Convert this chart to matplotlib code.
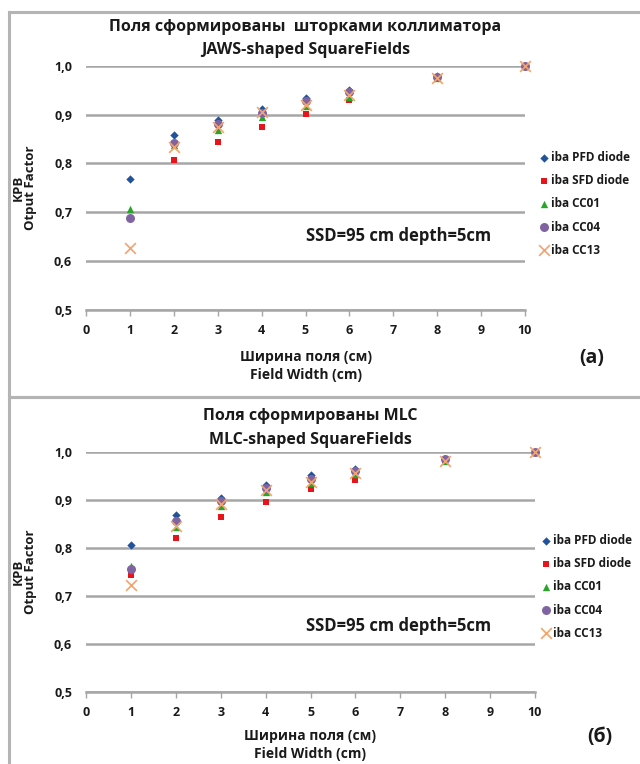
"""
Output factor vs field width: JAWS-shaped (a) and MLC-shaped (б) square fields.
Saves out.png (640x764).
"""
import numpy as np
import matplotlib
matplotlib.use("Agg")
import matplotlib.pyplot as plt
from matplotlib.patches import Rectangle

plt.rcParams["font.family"] = ["Open Sans", "DejaVu Sans"]
plt.rcParams["font.weight"] = "bold"
plt.rcParams["axes.labelweight"] = "bold"

# ---- data ----
field_width = [1, 2, 3, 4, 5, 6, 8, 10]
detectors = ["iba PFD diode", "iba SFD diode", "iba CC01", "iba CC04", "iba CC13"]

# (a) JAWS-shaped
jaws_pfd  = [0.768, 0.859, 0.888, 0.911, 0.933, 0.950, 0.979, 1.000]
jaws_sfd  = [np.nan, 0.807, 0.843, 0.875, 0.902, 0.929, 0.973, 1.000]
jaws_cc01 = [0.707, 0.838, 0.869, 0.895, 0.917, 0.936, 0.974, 1.000]
jaws_cc04 = [0.688, 0.841, 0.880, 0.904, 0.928, 0.946, 0.977, 1.000]
jaws_cc13 = [0.627, 0.833, 0.875, 0.905, 0.920, 0.940, 0.975, 1.000]

# (б) MLC-shaped
mlc_pfd  = [0.806, 0.868, 0.904, 0.930, 0.951, 0.965, 0.985, 1.000]
mlc_sfd  = [0.744, 0.821, 0.864, 0.895, 0.922, 0.941, 0.982, 1.000]
mlc_cc01 = [0.762, 0.843, 0.888, 0.916, 0.935, 0.953, 0.980, 1.000]
mlc_cc04 = [0.756, 0.855, 0.897, 0.925, 0.944, 0.960, 0.984, 1.000]
mlc_cc13 = [0.722, 0.846, 0.892, 0.920, 0.937, 0.955, 0.980, 1.000]

COLORS  = ["#22529a", "#e8141c", "#2aa52a", "#8064a2", "#f4a46a"]
MARKERS = ["D", "s", "^", "o", "x"]
SIZES   = [18, 20, 28, 42, 60]

panels = [
    dict(series=[jaws_pfd, jaws_sfd, jaws_cc01, jaws_cc04, jaws_cc13],
         title1="Поля сформированы  шторками коллиматора",
         title2="JAWS-shaped SquareFields", tag="(a)",
         rect=[86/640, 1-310/764, 439/640, 244.3/764],
         t1=27, t2=50, xl=366, tag_xy=(592, 358), ssd=(5.0, 0.642), leg=(1.02, 0.434)),
    dict(series=[mlc_pfd, mlc_sfd, mlc_cc01, mlc_cc04, mlc_cc13],
         title1="Поля сформированы MLC",
         title2="MLC-shaped SquareFields", tag="(б)",
         rect=[86/640, 1-692/764, 449/640, 240.3/764],
         t1=416, t2=440, xl=745, tag_xy=(600, 737), ssd=(4.9, 0.626), leg=(1.0, 0.437)),
]

fig = plt.figure(figsize=(6.4, 7.64), dpi=100)

# panel frames (light gray boxes)
for y0, y1 in [(12, 397), (397, 770)]:
    fig.add_artist(Rectangle((9/640, 1-y1/764), 1.0, (y1-y0)/764,
                             transform=fig.transFigure, fill=False,
                             ec="#b4b4b4", lw=2.2))

TXT = "#1a1a1a"
for p in panels:
    ax = fig.add_axes(p["rect"])
    for vals, lab, c, m, s in zip(p["series"], detectors, COLORS, MARKERS, SIZES):
        lw = 1.2 if m == "x" else 0
        ax.scatter(field_width, vals, marker=m, s=s, color=c, lw=lw, label=lab,
                   zorder=3, clip_on=False)
    ax.set_xlim(0, 10); ax.set_ylim(0.5, 1.0)
    ax.set_xticks(range(0, 11)); ax.set_yticks(np.arange(0.5, 1.01, 0.1))
    ax.set_yticklabels([f"{v:.1f}".replace(".", ",") for v in np.arange(0.5, 1.01, 0.1)])
    ax.grid(axis="y", color="#a6a6a6", lw=1.8)
    ax.set_axisbelow(True)
    for sp in ["left", "right", "top"]:
        ax.spines[sp].set_visible(False)
    ax.spines["bottom"].set_color("#a6a6a6"); ax.spines["bottom"].set_linewidth(1.8)
    ax.tick_params(axis="x", length=4, width=1, color="#a6a6a6", pad=6,
                   labelsize=9, labelcolor=TXT)
    ax.tick_params(axis="y", length=0, pad=10, labelsize=9, labelcolor=TXT)
    ax.set_ylabel("КРВ\nOtput Factor", fontsize=9.5, color=TXT, labelpad=12,
                  linespacing=1.0)
    cx = (p["rect"][0] + p["rect"][2]/2)
    fig.text(cx, 1-p["xl"]/764, "Ширина поля (см)\nField Width (cm)", ha="center",
             va="center", fontsize=10, color=TXT, linespacing=1.4)
    ax.text(*p["ssd"], "SSD=95 cm depth=5cm", fontsize=12, color=TXT)
    ax.legend(loc="center left", bbox_to_anchor=p["leg"], frameon=False,
              fontsize=8.5, handletextpad=0.1, labelspacing=0.85, handlelength=1.0,
              borderaxespad=0, labelcolor=TXT)
    fig.text(cx, 1-p["t1"]/764, p["title1"], ha="center", va="center",
             fontsize=11.5, color=TXT)
    fig.text(cx, 1-p["t2"]/764, p["title2"], ha="center", va="center",
             fontsize=11.5, color=TXT)
    fig.text(p["tag_xy"][0]/640, 1-p["tag_xy"][1]/764, p["tag"], ha="center",
             va="center", fontsize=14, color=TXT)

fig.savefig("out.png", dpi=100)
